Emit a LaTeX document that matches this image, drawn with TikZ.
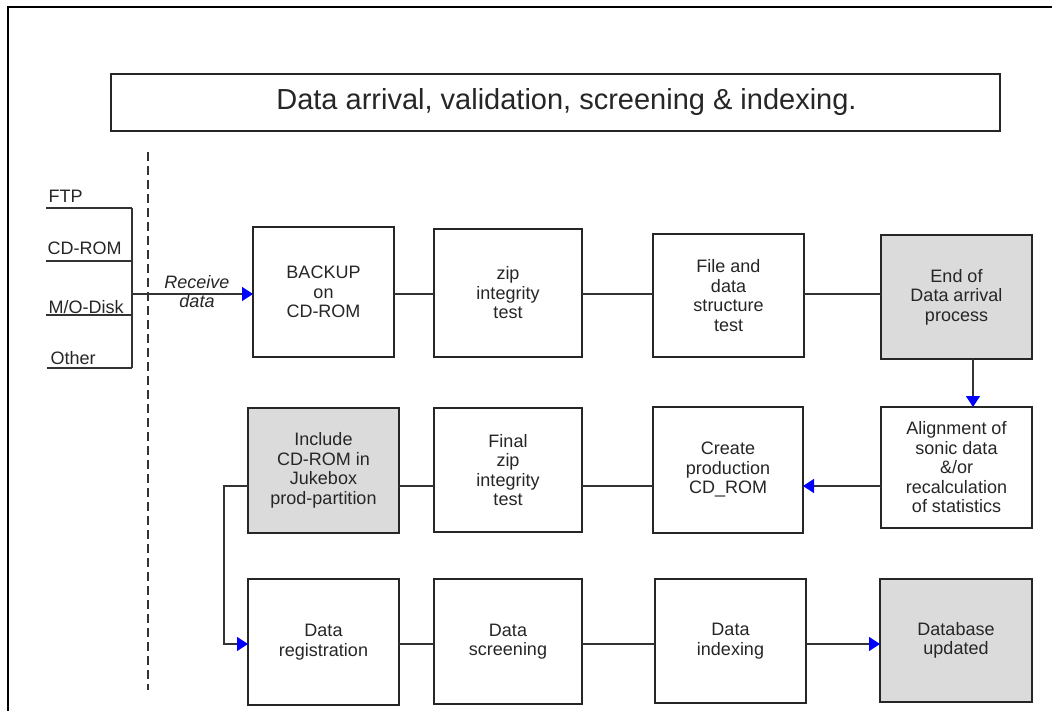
\documentclass[tikz,border=0pt]{standalone}
\usepackage{fontspec}
\setmainfont{Liberation Sans}
\usetikzlibrary{arrows.meta}
\begin{document}
\begin{tikzpicture}[x=1pt,y=-1pt,
  every node/.style={font=\fontsize{18}{19.5}\selectfont, text=black!85},
  box/.style={draw=black!85, line width=1.5pt, inner sep=0pt, outer sep=0pt, align=center},
  shaded/.style={box, fill=black!14},
  link/.style={draw=black!80, line width=1.3pt},
  flow/.style={link, -{Triangle[length=11pt,width=14pt,color=blue]}},
]
\useasboundingbox (0,0) rectangle (1052,711);
\fill[white] (0,0) rectangle (1052,711);

% page frame (top and left edges)
\draw[line width=1.5pt] (1052,7) -- (8,7) -- (8,711);

% title
\node[box, minimum width=889pt, minimum height=57pt, font=\fontsize{29}{33}\selectfont] (title) at (555.5,102.5)
  {\hspace*{22pt}Data arrival, validation, screening \& indexing.};

% boundary between sources and processing
\draw[black!80, line width=1.3pt, dash pattern=on 9pt off 5pt] (148,152) -- (148,690);

% data sources
\node[anchor=base west] (ftp)   at (45,203) {FTP};
\node[anchor=base west] (cdrom) at (44,255) {CD-ROM};
\node[anchor=base west] (mo)    at (45,313) {M/O-Disk};
\node[anchor=base west] (other) at (47,364) {Other};
\coordinate (ftpL) at (46,208);
\coordinate (cdL)  at (46,261);
\coordinate (moL)  at (46,315);
\coordinate (otL)  at (47,368);
\coordinate (bt) at (132,208);
\coordinate (bc) at (132,261);
\coordinate (bm) at (132,294);
\coordinate (bd) at (132,315);
\coordinate (bb) at (132,368);
\draw[link] (ftpL) -- (bt);
\draw[link] (cdL) -- (bc);
\draw[link] (moL) -- (bd);
\draw[link] (otL) -- (bb);
\draw[link] (bt) -- (bb);

\node[anchor=base, font=\itshape\fontsize{18}{19.5}\selectfont] (recv)  at (197,289) {Receive};
\node[anchor=base, font=\itshape\fontsize{18}{19.5}\selectfont] (recv2) at (197,308) {data};

% row 1
\node[box, minimum width=141pt, minimum height=130pt] (bk)   at (323.5,292)   {BACKUP\\on\\CD-ROM};
\node[box, minimum width=148pt, minimum height=128pt] (zip)  at (508,293)     {zip\\integrity\\test};
\node[box, minimum width=151pt, minimum height=123pt] (file) at (728.5,295.5) {File and\\data\\structure\\test};
\node[shaded, minimum width=151pt, minimum height=124pt] (end) at (956.5,297) {End of\\Data arrival\\process};

% row 2
\node[box, minimum width=151pt, minimum height=121pt] (align)  at (956.5,467.5) {Alignment of\\sonic data\\\&/or\\recalculation\\of statistics};
\node[box, minimum width=150pt, minimum height=126pt] (create) at (728,470)     {Create\\production\\CD\_ROM};
\node[box, minimum width=148pt, minimum height=124pt] (final)  at (508,470)     {Final\\zip\\integrity\\test};
\node[shaded, minimum width=151pt, minimum height=125pt] (incl) at (323.5,470.5) {Include\\CD-ROM in\\Jukebox\\prod-partition};

% row 3
\node[box, minimum width=151pt, minimum height=126pt] (reg) at (323.5,642)  {Data\\registration};
\node[box, minimum width=148pt, minimum height=125pt] (scr) at (508,641.5)  {Data\\screening};
\node[box, minimum width=151pt, minimum height=124pt] (idx) at (730.5,641)  {Data\\indexing};
\node[shaded, minimum width=152pt, minimum height=123pt] (db) at (956,640.5) {Database\\updated};

% connector levels
\coordinate (r1) at (0,294);
\coordinate (r2) at (0,486);
\coordinate (r3) at (0,644);
\coordinate (dn) at (973,0);
\coordinate (loop) at (224,486);

\draw[flow] (bm) -- (bk.west |- bm);
\draw[link] (bk.east |- r1) -- (zip.west |- r1);
\draw[link] (zip.east |- r1) -- (file.west |- r1);
\draw[link] (file.east |- r1) -- (end.west |- r1);
\draw[flow] (end.south -| dn) -- (align.north -| dn);
\draw[flow] (align.west |- r2) -- (create.east |- r2);
\draw[link] (create.west |- r2) -- (final.east |- r2);
\draw[link] (final.west |- r2) -- (incl.east |- r2);
\draw[flow] (incl.west |- r2) -- (loop) |- (reg.west |- r3);
\draw[link] (reg.east |- r3) -- (scr.west |- r3);
\draw[link] (scr.east |- r3) -- (idx.west |- r3);
\draw[flow] (idx.east |- r3) -- (db.west |- r3);
\end{tikzpicture}
\end{document}
